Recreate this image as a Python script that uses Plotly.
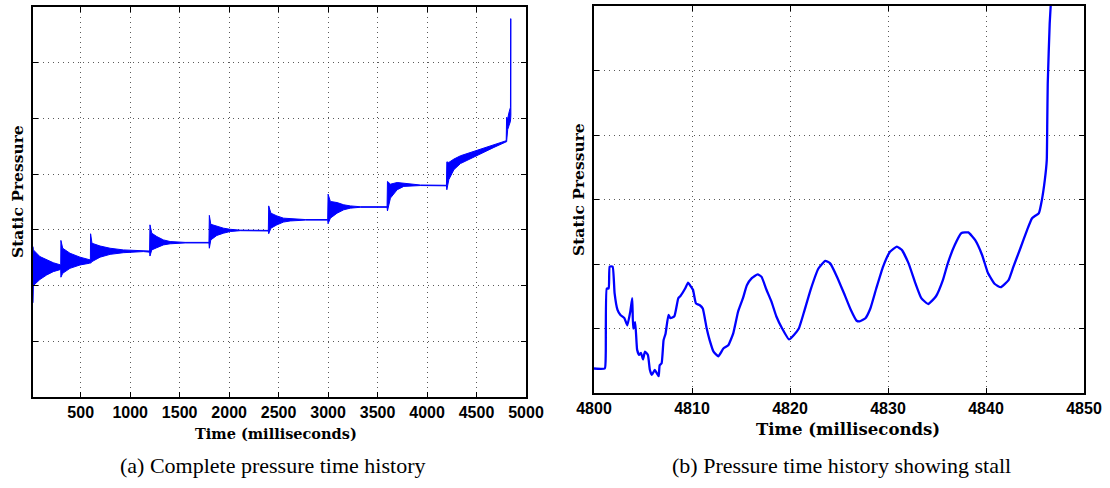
import plotly.graph_objects as go

# ---------------- data ----------------
# (a) complete history: dense oscillation drawn as its upper / lower envelope
full_t = [18, 22, 88, 156, 223, 298,
          300, 318, 392, 493, 587, 598,
          600, 614, 696, 797, 931, 1050, 1133, 1196,
          1200, 1218, 1269, 1336, 1404, 1555, 1796,
          1800, 1815, 1876, 1943, 2011, 2112, 2396,
          2400, 2422, 2483, 2550, 2618, 2770, 2996,
          3000, 3023, 3091, 3158, 3225, 3326, 3596,
          3600, 3630, 3698, 3765, 3866, 3933, 4196,
          4200, 4220, 4271, 4338, 4439, 4541, 4676, 4800,
          4804, 4815, 4830, 4843, 4845, 4847]
full_upper = [2.70, 2.64, 2.52, 2.46, 2.41, 2.37,
              2.81, 2.67, 2.58, 2.51, 2.47, 2.46,
              2.93, 2.76, 2.71, 2.67, 2.64, 2.625, 2.62, 2.62,
              3.09, 2.94, 2.88, 2.82, 2.79, 2.775, 2.775,
              3.26, 3.10, 3.06, 3.03, 3.01, 2.995, 2.99,
              3.43, 3.30, 3.25, 3.21, 3.20, 3.185, 3.185,
              3.64, 3.51, 3.49, 3.45, 3.43, 3.415, 3.415,
              3.87, 3.82, 3.85, 3.84, 3.82, 3.805, 3.80,
              4.22, 4.21, 4.27, 4.33, 4.39, 4.45, 4.52, 4.60,
              5.02, 5.00, 5.12, 5.20, 6.79, 6.79]
full_lower = [1.69, 2.00, 2.11, 2.19, 2.25, 2.29,
              2.15, 2.22, 2.31, 2.37, 2.40, 2.41,
              2.40, 2.43, 2.51, 2.56, 2.59, 2.605, 2.61, 2.60,
              2.53, 2.64, 2.68, 2.73, 2.75, 2.765, 2.765,
              2.67, 2.82, 2.90, 2.94, 2.97, 2.985, 2.98,
              2.93, 3.03, 3.09, 3.14, 3.16, 3.175, 3.175,
              3.11, 3.21, 3.30, 3.36, 3.39, 3.405, 3.405,
              3.34, 3.57, 3.72, 3.78, 3.79, 3.795, 3.79,
              3.72, 3.90, 4.08, 4.19, 4.28, 4.37, 4.48, 4.58,
              4.58, 4.80, 4.88, 4.95, 4.95, 5.05]

# (b) stall detail
stall_t = [4800.0, 4801.1, 4801.2, 4801.3, 4801.5, 4801.6, 4801.9, 4802.1, 4802.4, 4802.7,
           4803.1, 4803.4, 4803.7, 4803.9, 4804.0, 4804.2, 4804.4, 4804.6, 4804.8, 4805.0,
           4805.2, 4805.5, 4805.7, 4805.9, 4806.2, 4806.4, 4806.6, 4806.7, 4806.9, 4807.1,
           4807.3, 4807.6, 4807.8, 4808.2, 4808.6, 4808.8, 4809.3, 4809.6, 4809.8, 4810.1,
           4810.4, 4810.8, 4811.1, 4811.5, 4811.8, 4812.2, 4812.7, 4813.2, 4813.7, 4814.2,
           4814.7, 4815.2, 4815.6, 4816.1, 4816.7, 4817.1, 4817.6, 4818.1, 4818.6, 4819.2,
           4819.9, 4820.4, 4820.9, 4821.4, 4822.1, 4822.9, 4823.6, 4824.1, 4824.8, 4825.5,
           4826.2, 4826.8, 4827.1, 4827.7, 4828.2, 4828.8, 4829.5, 4830.2, 4830.9, 4831.4,
           4832.1, 4832.8, 4833.4, 4834.1, 4834.9, 4835.6, 4836.1, 4836.8, 4837.5, 4838.2,
           4838.9, 4839.6, 4840.2, 4840.9, 4841.5, 4842.3, 4842.8, 4843.5, 4844.2, 4844.7,
           4845.4, 4845.7, 4846.0, 4846.2, 4846.25, 4846.3, 4846.5, 4846.6, 4846.7]
stall_p = [0.38, 0.38, 0.62, 1.62, 1.62, 1.96, 1.96, 1.55, 1.29, 1.21,
           1.16, 1.05, 1.26, 1.47, 1.00, 1.10, 0.67, 0.59, 0.62, 0.52,
           0.64, 0.59, 0.36, 0.28, 0.36, 0.31, 0.26, 0.43, 0.46, 0.82,
           0.92, 1.21, 1.16, 1.19, 1.47, 1.50, 1.62, 1.71, 1.67, 1.60,
           1.39, 1.36, 1.31, 1.00, 0.82, 0.64, 0.57, 0.69, 0.74, 0.92,
           1.26, 1.47, 1.67, 1.78, 1.84, 1.80, 1.60, 1.42, 1.19, 1.00,
           0.83, 0.90, 1.00, 1.24, 1.60, 1.93, 2.05, 2.01, 1.80, 1.55,
           1.29, 1.12, 1.11, 1.16, 1.31, 1.62, 1.96, 2.19, 2.27, 2.22,
           2.01, 1.70, 1.47, 1.38, 1.50, 1.75, 2.01, 2.29, 2.48, 2.49,
           2.37, 2.14, 1.86, 1.69, 1.64, 1.75, 1.96, 2.24, 2.53, 2.71,
           2.79, 2.99, 3.30, 3.61, 4.18, 4.80, 5.73, 6.00, 6.50]

x1_ticks = [500, 1000, 1500, 2000, 2500, 3000, 3500, 4000, 4500, 5000]
x2_ticks = [4800, 4810, 4820, 4830, 4840, 4850]
y1_ticks = [1, 2, 3, 4, 5, 6]
y2_ticks = [1, 2, 3, 4, 5]

x_title = "Time (milliseconds)"
y_title = "Static Pressure"
caption_a = "(a) Complete pressure time history"
caption_b = "(b) Pressure time history showing stall"

# ---------------- figure ----------------
W, H = 1110, 488
BLUE = "rgb(0,0,255)"

fig = go.Figure()
fig.add_trace(go.Scatter(
    x=full_t + full_t[::-1], y=full_upper + full_lower[::-1],
    mode="lines", fill="toself", fillcolor=BLUE,
    line=dict(color=BLUE, width=1), hoverinfo="skip",
    xaxis="x", yaxis="y"))
fig.add_trace(go.Scatter(
    x=stall_t, y=stall_p, mode="lines",
    line=dict(color=BLUE, width=2.3, shape="spline", smoothing=0.4),
    hoverinfo="skip", xaxis="x2", yaxis="y2"))

tickfont = dict(family="Liberation Sans, Arial, sans-serif", size=16,
                color="black", weight="bold")
common = dict(showline=True, linecolor="black", linewidth=1.6, mirror="ticks",
              ticks="inside", ticklen=5, tickwidth=1, tickcolor="black",
              showgrid=True, gridcolor="rgba(60,60,60,0.85)", gridwidth=1,
              griddash="1px,4px", zeroline=False, tickfont=tickfont,
              automargin=False)

fig.update_layout(
    width=W, height=H, margin=dict(l=0, r=0, t=0, b=0, autoexpand=False),
    paper_bgcolor="white", plot_bgcolor="white", showlegend=False,
    xaxis=dict(domain=[33 / W, 526 / W], range=[18, 5000], tickvals=x1_ticks,
               anchor="y", **common),
    yaxis=dict(domain=[1 - 397 / H, 1 - 7 / H], range=[0, 7], tickvals=y1_ticks,
               showticklabels=False, anchor="x", **common),
    xaxis2=dict(domain=[594 / W, 1084 / W], range=[4800, 4850], tickvals=x2_ticks,
                anchor="y2", **common),
    yaxis2=dict(domain=[1 - 393 / H, 1 - 6 / H], range=[0, 6], tickvals=y2_ticks,
                showticklabels=False, anchor="x2", **common),
)

serif_b = dict(family="DejaVu Serif, serif", color="black", weight="bold")
cap_font = dict(family="Liberation Serif, serif", size=22, color="black")


def ann(text, x, y, font, angle=0):
    fig.add_annotation(text=text, x=x / W, y=1 - y / H, xref="paper", yref="paper",
                       xanchor="center", yanchor="middle", showarrow=False,
                       textangle=angle, font=font)


ann(y_title, 17, 192, dict(serif_b, size=15.5), -90)
ann(y_title, 578, 190, dict(serif_b, size=15.5), -90)
ann(x_title, 276, 433, dict(serif_b, size=14.5))
ann(x_title, 848, 429, dict(serif_b, size=16.5))
ann(caption_a, 272, 465, cap_font)
ann(caption_b, 841, 465, cap_font)

fig.write_html("out.html")
